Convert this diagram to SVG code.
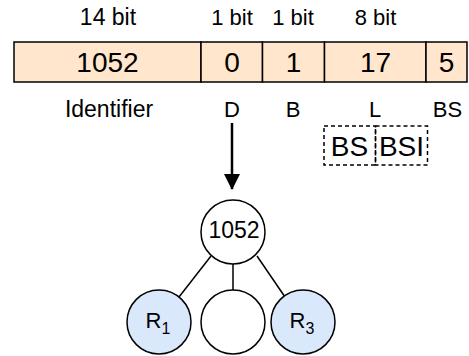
<svg xmlns="http://www.w3.org/2000/svg" width="469" height="356" viewBox="0 0 469 356">
<style>
.cell{fill:#ffe6cc;stroke:#000;stroke-width:1.5}
.t{font-family:"Liberation Sans",Arial,sans-serif;fill:#000;text-anchor:middle}
.dash{fill:none;stroke:#000;stroke-width:1.5;stroke-dasharray:4 3}
.node{stroke:#000;stroke-width:1.5}
.edge{stroke:#000;stroke-width:1.5;fill:none}
.arrow{stroke:#000;stroke-width:2.5;fill:none}
</style>
<defs>
<marker id="ah" markerWidth="16" markerHeight="16" refX="15" refY="8" orient="auto" markerUnits="userSpaceOnUse">
<path d="M0,0 L16,8 L0,16 Z" fill="#000"/>
</marker>
</defs>
<g id="bit-labels">
<text class="t" font-size="23" x="108" y="25">14 bit</text>
<text class="t" font-size="22" x="232" y="25">1 bit</text>
<text class="t" font-size="22" x="293" y="25">1 bit</text>
<text class="t" font-size="22" x="375.5" y="25">8 bit</text>
</g>
<g id="field-identifier"><rect class="cell" x="14" y="42" width="187" height="40"/><text class="t" font-size="28" x="107.5" y="72">1052</text></g>
<g id="field-D"><rect class="cell" x="201" y="42" width="61.5" height="40"/><text class="t" font-size="28" x="232" y="72">0</text></g>
<g id="field-B"><rect class="cell" x="262.5" y="42" width="62" height="40"/><text class="t" font-size="28" x="293.5" y="72">1</text></g>
<g id="field-L"><rect class="cell" x="324.5" y="42" width="101.5" height="40"/><text class="t" font-size="28" x="375.5" y="72">17</text></g>
<g id="field-BS"><rect class="cell" x="426" y="42" width="41" height="40"/><text class="t" font-size="28" x="446.5" y="72">5</text></g>
<g id="name-labels">
<text class="t" font-size="23" x="109" y="117">Identifier</text>
<text class="t" font-size="22" x="232" y="117">D</text>
<text class="t" font-size="22" x="293" y="117">B</text>
<text class="t" font-size="22" x="375" y="117">L</text>
<text class="t" font-size="22" x="447.5" y="117">BS</text>
</g>
<g id="L-split">
<rect class="dash" x="324" y="126" width="51.5" height="39"/>
<rect class="dash" x="375.5" y="126" width="52" height="39"/>
<text class="t" font-size="28" x="349.5" y="156">BS</text>
<text class="t" font-size="28" x="401.5" y="156">BSI</text>
</g>
<g id="connectors">
<line class="arrow" x1="232" y1="123" x2="232" y2="189" marker-end="url(#ah)"/>
<line class="edge" x1="211" y1="256" x2="179" y2="297"/>
<line class="edge" x1="233" y1="264" x2="233" y2="290"/>
<line class="edge" x1="257" y1="256" x2="285" y2="297"/>
</g>
<g id="node-1052"><circle class="node" cx="233" cy="232" r="32" fill="#fff"/><text class="t" x="234" y="238" font-size="23">1052</text></g>
<g id="node-R1"><circle class="node" cx="159" cy="322" r="32" fill="#dae8fc"/><text class="t" x="158" y="328" font-size="22">R<tspan font-size="16" dy="6">1</tspan></text></g>
<g id="node-mid"><circle class="node" cx="233" cy="322" r="32" fill="#fff"/></g>
<g id="node-R3"><circle class="node" cx="303" cy="322" r="32" fill="#dae8fc"/><text class="t" x="302" y="328" font-size="22">R<tspan font-size="16" dy="6">3</tspan></text></g>
</svg>
